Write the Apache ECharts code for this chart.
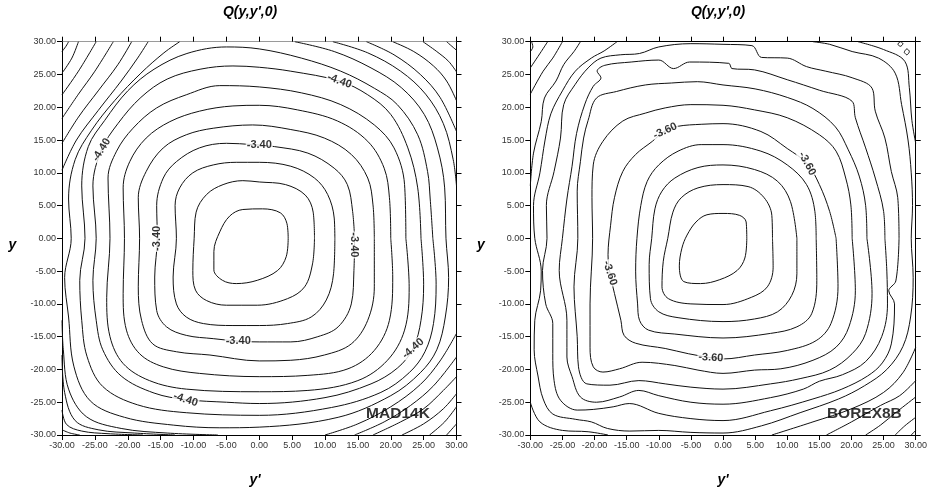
<!DOCTYPE html>
<html>
<head>
<meta charset="utf-8">
<script src="https://cdn.jsdelivr.net/npm/echarts@6/dist/echarts.min.js"></script>
<style>
  html, body { margin: 0; padding: 0; background: #fff; }
  #chart { width: 930px; height: 495px; }
</style>
</head>
<body>
<div id="chart"></div>
<script>
// Axis range shared by both panels (y' across, y up)
const axisMin = -30, axisMax = 30, axisStep = 5;
const panelTitles = ["Q(y,y',0)", "Q(y,y',0)"];
const panelTags = ['MAD14K', 'BOREX8B'];
const tagSpots = [[21.1, -26.7], [22.0, -26.8]];

// MAD14K contour lines, innermost first; each ring is a list of visible pieces of [y', y]
const madRings = [
  [[[4.4,0],[4.2,2.3],[3.2,3.9],[0.5,4.5],[-2.5,4.4],[-4.5,3.4],[-6,1],[-6.9,-2],[-6.9,-4.8],[-5.6,-6.4],[-3.5,-6.9],[-0.3,-6.4],[2.8,-4.9],[4.1,-2.8],[4.4,0]]],
  [[[8.4,0],[8.2,4],[7,6.6],[4,8.2],[0,8.6],[-2.5,8.8],[-5.5,8.2],[-8,6.7],[-9.6,4],[-9.9,0],[-10.1,-4.9],[-9.7,-7.9],[-8,-9.5],[-5,-10.2],[-0.3,-10.2],[4.3,-9.2],[6.9,-7.4],[8.1,-3.9],[8.4,0]]],
  [[[11.5,0],[11.4,3.1],[10.4,6.7],[8.4,9.2],[4.8,11],[0,11.6],[-3.5,11.6],[-7,11.2],[-10.1,10],[-12.1,7.7],[-12.8,5],[-12.6,0],[-13.1,-5.9],[-12.6,-10],[-11.1,-12],[-8.5,-13],[-4,-13.3],[0,-13.3],[4.3,-13],[7.9,-12],[10.2,-9.4],[11.3,-5.4],[11.5,0]]],
  [[[14.5,0],[14.2,4.1],[13.4,8.2],[11.4,10.7],[7.4,13],[2.3,14],[-1,14.3],[-5,14.5],[-9.1,13.8],[-12.6,11.7],[-14.6,9.2],[-15.6,5],[-15.5,0],[-15.9,-5.9],[-15.6,-11],[-14.1,-13.5],[-11.1,-14.8],[-7,-15.3],[-3,-15.7],[0,-15.8],[4.8,-15.8],[8.9,-15],[12,-13.5],[14,-10],[14.4,-4.9],[14.5,0]]],
  [[[17.5,0],[17.3,5.1],[16.5,9.2],[14,12.8],[9.9,15.3],[4.8,16.6],[-1,17.3],[-7,16.8],[-11.1,15.8],[-14.6,13.8],[-17.2,10.2],[-18.4,6.2],[-18.2,0],[-18.4,-7.4],[-17.9,-12.5],[-16.2,-16.1],[-12.6,-17.3],[-7.5,-17.8],[0,-18.7],[4.8,-18.6],[9.9,-17.8],[14,-16.1],[16.5,-12.5],[17.5,-7.4],[17.5,0]]],
  [[[20,0],[19.8,6.2],[19,10.7],[16.5,14.8],[11.9,17.9],[5.8,19.6],[0,20.3],[-4,20.2],[-9.1,19.4],[-13.6,17.8],[-17.2,15.3],[-19.7,11.7],[-20.7,7.7],[-20.5,0],[-20.7,-8.4],[-20.2,-14],[-18.2,-17.6],[-14.6,-19.6],[-9.1,-20.6],[0,-21.1],[7.4,-20.9],[13.5,-19.9],[17.5,-17.1],[19.8,-12.5],[20.3,-5.9],[20,0]]],
  [[[22.3,0],[22.1,8.2],[20.5,13.8],[17.5,17.3],[12.4,20.4],[6.4,22.2],[0,23.1],[-6,23.3],[-11.1,21.9],[-15.6,19.9],[-19.2,16.8],[-21.7,13.3],[-23,9.2],[-22.7,0],[-23.2,-9],[-22.7,-15],[-20.7,-19.1],[-16.7,-21.7],[-11.1,-23],[0,-23.4],[7.4,-23.2],[15,-21.7],[19.5,-18.6],[22.1,-14],[22.8,-7.4],[22.3,0]]],
  [[[24.6,0],[24.1,7.7],[22.6,13.8],[20,18.9],[16.5,21.9],[12.2,24],[4.8,25.5],[0,26.1],[-4,26.3],[-9,25.8],[-14,24.3],[-18,21.5],[-21.5,17.5],[-24,13.5],[-25.3,8],[-24.8,0],[-25.3,-6.4],[-24.8,-12.5],[-23.8,-17],[-21,-21],[-16,-23.6],[-11.1,-24.6],[-5,-25],[0,-25.2],[10,-24.3],[17,-22.2],[21,-19.8],[23.4,-16.8],[24.6,-12.5],[25,-7],[24.6,0]]],
  [[[26.4,0],[26,6],[25.6,10.2],[24.1,15.8],[21,20.4],[17.5,22.9],[12.4,25.5],[6.4,27.5],[0,28.9],[-5,29.2],[-11,28.2],[-16,25.8],[-20,22.5],[-23.5,18],[-26,14],[-27,8],[-26.5,0],[-27.3,-6.4],[-27,-12.5],[-26.2,-18],[-23.8,-22.6],[-18.5,-25.4],[-11.1,-26.6],[0,-27],[11,-25.8],[18.5,-23.5],[22.8,-20.5],[25.2,-17.3],[26.5,-13],[26.9,-7],[26.4,0]]],
  [[[5.4,30],[11.4,28.5],[17,26],[21.6,23],[25.1,18.9],[27.1,13.8],[28.2,7.7],[28.4,0],[28.8,-6],[28.3,-12],[27,-17],[24.5,-20.5],[20,-24],[12,-27.3],[0,-28.8],[-6,-28.9],[-13,-28.5],[-20.5,-27.3],[-25.7,-24.8],[-28.2,-19.5],[-29,-12],[-29.6,-6],[-28.6,0],[-29,6],[-28,12],[-25.5,16.5],[-22,21],[-18,25.2],[-14.5,28.3],[-12.1,30]]],
  [
    [[11.2,30],[16.5,28.3],[21.5,25.5],[25.3,22],[28,17.5],[29.5,12],[30,8]],
    [[30,-14.5],[27.5,-18.7],[24.5,-22.3],[20,-25.7],[15,-28.3],[10,-30]],
    [[-6.3,-30],[-14,-29.7],[-21,-29],[-26.3,-27.2],[-29,-23],[-29.8,-17],[-30,-12.5]],
    [[-30,10.4],[-27.8,15],[-24.5,19.5],[-21,24],[-18.5,27.5],[-16.9,30]]
  ],
  [
    [[16.3,30],[20.5,28],[24.5,25],[27.5,21.5],[30,16.3]],
    [[30,-18.1],[26.5,-22.5],[23,-25.5],[19,-28],[14.5,-30]],
    [[-12.8,-30],[-19,-29.7],[-24.5,-29.2],[-28,-27.8],[-29.6,-23.5],[-30,-17.8]],
    [[-30,14.5],[-27.5,18.5],[-24.5,22.5],[-21.5,26.5],[-19.4,30]]
  ],
  [
    [[20.3,30],[23.5,28.5],[26.5,26.3],[28.5,24],[30,21]],
    [[30,-21.1],[28,-23.2],[25,-26],[21.5,-28],[17.3,-30]],
    [[-17.7,-30],[-23,-29.8],[-27,-29.4],[-29.3,-28.4],[-30,-26.2]],
    [[-30,18.3],[-27.5,22],[-25,25.5],[-22.2,30]]
  ],
  [
    [[24.9,30],[27,28.5],[28.8,27],[30,25.4]],
    [[30,-23.7],[28,-26],[25,-28.3],[21.7,-30]],
    [[-27.3,-30],[-28.8,-29.7],[-30,-29.2]],
    [[-30,21.9],[-27.5,25.5],[-24.8,30]]
  ],
  [
    [[28.5,30],[29.3,29.3],[30,28.7]],
    [[30,-25.7],[28.2,-28],[25.9,-30]],
    [[-30,25.2],[-28.5,27.5],[-27.5,30]]
  ],
  [
    [[30,-28.3],[29.3,-29.1],[28.5,-30]],
    [[-30,28.5],[-29.4,29.3],[-29,30]]
  ]
];
// MAD14K level labels: [y', y, text]
const madLabelSpots = [[-24,13.5,'-4.40'],[0,14.2,'-3.40'],[12.2,24,'-4.40'],[-15.5,0,'-3.40'],[14.4,-1,'-3.40'],[-3.2,-15.6,'-3.40'],[-11.2,-24.6,'-4.40'],[23.4,-16.8,'-4.40']];

// BOREX8B contour lines
const borexRings = [
  [[[3.7,0],[3.6,2.5],[2.6,3.5],[0,3.8],[-2.5,3.6],[-4.2,2.5],[-5.6,0.5],[-6.4,-1.5],[-6.8,-4.2],[-6.1,-6.6],[-3.5,-6.9],[-0.5,-6.3],[2.2,-4.9],[3.4,-3],[3.7,0]]],
  [[[7.7,0],[7.6,3.5],[6.4,6.2],[3.9,7.9],[0,8.2],[-3.9,7.7],[-6.5,6.2],[-7.8,4],[-8.6,0],[-9.3,-3.5],[-9.5,-7.4],[-8.5,-9.2],[-5,-10],[0,-10.1],[4.4,-9],[6.9,-7.4],[7.8,-4.4],[7.7,0]]],
  [[[11.5,0],[10.5,5.6],[8.5,8.7],[4.9,10.5],[0,11.2],[-3.9,10.8],[-7.5,9.2],[-9.5,7.2],[-10.6,4.5],[-11.1,0],[-11.5,-4],[-11.3,-9.2],[-10,-11.2],[-7,-12.1],[0,-12.7],[4.9,-12.3],[8.5,-11.2],[10.7,-8.7],[11.5,-5.4],[11.5,0]]],
  [[[14.5,0],[14.3,4.1],[13,8.2],[10,11.2],[5.9,13.3],[0,14.3],[-3.4,14.3],[-7,13.3],[-10,11.2],[-11.8,8.7],[-12.8,5],[-13.4,0],[-13.6,-5],[-13.3,-10],[-13,-12.5],[-11.6,-14],[-7.5,-14.6],[0,-15.2],[7.4,-14.5],[11.5,-13.5],[13.8,-11.5],[14.6,-6.4],[14.5,0]]],
  [[[17.6,0],[16.6,4.1],[15,8.2],[13.1,11.4],[10,13.7],[5.9,16.3],[0,17.5],[-3.4,17.4],[-7,17.1],[-9,16.4],[-11,14.8],[-13.6,12.8],[-15.6,10.2],[-16.9,6.2],[-17.5,2],[-17.9,-2.5],[-17.6,-5.3],[-16.9,-8.4],[-15.9,-12.5],[-15.4,-14.8],[-13.6,-16],[-9,-16.8],[-5.4,-17.6],[-1.9,-18.2],[0,-18.4],[4.9,-17.8],[10,-17.1],[14.5,-15.6],[16.8,-13],[17.9,-7.4],[17.6,0]]],
  [[[20.1,0],[19.9,5.1],[19.1,9.2],[17.6,13.3],[15,15.8],[10,18.4],[4.9,19.6],[0,20.3],[-5,20.4],[-9,19.9],[-12.1,19.1],[-15.6,17.9],[-18.7,14.8],[-20.2,11.2],[-20.4,6.2],[-20.3,0],[-20.7,-10],[-20.7,-16.6],[-20.2,-19.6],[-18.7,-20.4],[-16.1,-19.9],[-12.6,-18.9],[-7.5,-19.4],[-3.9,-20.1],[0,-20.6],[4.9,-20.1],[9,-19.9],[14,-18.6],[17.6,-16.6],[19.6,-13.5],[20.6,-8],[20.1,0]]],
  [[[22.4,0],[22.2,5],[21.2,9.5],[19.5,13.5],[17.5,17],[14,19.8],[10,21.5],[5,22.8],[0,23.4],[-4,23.9],[-8,23.7],[-12.1,23.4],[-16.6,22.4],[-19.7,21.4],[-21,18],[-21.7,15.3],[-22.2,11.7],[-22.7,7.2],[-22.6,0],[-23.2,-7.4],[-22.7,-15],[-22.5,-19.6],[-21.2,-22.2],[-17.6,-22.4],[-13.1,-21.7],[-9,-22.2],[-5,-22.7],[0,-23],[7.4,-22.2],[12,-21.4],[16.6,-20.1],[20.1,-17.6],[22.2,-14.5],[23.2,-8.4],[22.4,0]]],
  [[[25.2,0],[25,4.1],[23.7,9.2],[22.2,13.8],[20.6,18.4],[20.1,20.9],[15,22.6],[10,24.2],[4.9,25.7],[1.4,25.9],[0.9,26.7],[-5.2,26.9],[-7.7,25.9],[-10,27.2],[-14.3,26.9],[-18.4,26.4],[-19.6,25.5],[-19,24.5],[-20.2,23.2],[-21.5,20.5],[-22.8,16],[-23.5,11],[-24.3,6],[-25,0],[-25.5,-4.9],[-24.3,-12.5],[-24.3,-18.1],[-23.5,-21.1],[-22.2,-24.2],[-19.7,-25],[-16.1,-24.2],[-13.1,-23.2],[-10,-24],[-5,-25],[0,-25.3],[7.4,-24.3],[12.5,-23],[15,-21.8],[18.6,-20.8],[22.2,-18.8],[24.7,-15],[25.6,-10],[25.5,-5],[25.2,0]]],
  [[[27.4,0],[27.2,6.2],[26.2,10.2],[25.2,15.3],[23.7,19.4],[23.2,22.9],[20.1,24.5],[16,25.5],[13,26.2],[10,27.5],[6,27.6],[4.5,29.4],[0,29.6],[-5,29.7],[-10,29.2],[-13,28.2],[-16,28],[-19,27.5],[-21,26],[-23,23.5],[-24.8,20.4],[-25.3,15.3],[-26.3,10.2],[-27.5,5],[-27.4,0],[-28.1,-4.9],[-27.6,-10],[-26.5,-13],[-26.5,-17.6],[-26.3,-21.7],[-25.3,-24.7],[-22.7,-26.2],[-20.2,-26.1],[-17.1,-25.7],[-14.6,-25.2],[-10,-26.7],[-5,-27.5],[0,-27.8],[7.4,-26.3],[14,-24.5],[18.5,-23],[22.5,-21],[24.8,-19],[26.2,-16.1],[26.7,-10],[25.8,-8],[26.9,-6.5],[27.4,0]]],
  [[[14,30],[16.6,29.6],[20.1,28.5],[24.2,27.5],[26.8,25.2],[27.8,20.4],[28.8,15],[29.3,10],[29.5,5],[29.3,0],[29.6,-6],[29.2,-12],[28,-16.5],[25.5,-20],[22,-22.5],[18,-24.5],[12,-26.6],[6,-28.6],[0,-29.7],[-5,-29.6],[-10,-29.3],[-14.5,-29.4],[-18,-29],[-20.5,-28],[-23,-27.6],[-26.5,-26.8],[-28,-24.5],[-28.8,-21],[-29.4,-17],[-29.3,-12.5],[-28.4,-8],[-28.3,-5],[-29.3,0],[-29.5,5],[-28.5,10],[-27.7,15],[-26.8,19],[-25,22.5],[-23,25.5],[-20.5,27.5],[-18.5,28.6],[-16.5,30]]],
  [
    [[21,30],[25,28.8],[28.3,27],[29,23],[29.4,18],[30,14.5]],
    [[30,-16.6],[28,-20.5],[25,-23.5],[20,-26],[14,-28],[7.6,-30]],
    [[-17.9,-30],[-21,-29.5],[-25,-29.3],[-28.5,-28],[-30,-25]],
    [[-30,8],[-29.5,13],[-28.3,17.8],[-27.8,21.4],[-26,24],[-24.8,26.5],[-23.2,28.5],[-22.2,30]]
  ],
  [
    [[30,-21.7],[27.5,-24],[24.5,-25.5],[20,-28],[16.1,-30]],
    [[-30,22],[-28,25.5],[-26.5,27.5],[-25,30]]
  ],
  [
    [[30,-24.2],[27,-26.5],[24.5,-28.5],[22.2,-30]],
    [[-30,26],[-28.3,28.5],[-27.3,30]]
  ],
  [
    [[30,-27.3],[28.3,-28.6],[26.8,-30]],
    [[-30,28.5],[-29.6,29.2],[-29.8,30]]
  ],
  [
    [[30,-29.3],[29.3,-30]],
    [[27.2,29.6],[27.6,30],[28,29.7],[27.6,29.3],[27.2,29.6]],
    [[28.2,28.4],[28.6,28.9],[29,28.5],[28.6,28],[28.2,28.4]]
  ]
];
// BOREX8B level labels
const borexLabelSpots = [[-9,16.4,'-3.60'],[13.1,11.4,'-3.60'],[-17.6,-5.3,'-3.60'],[-1.9,-18.2,'-3.60']];

// label rotations (degrees), same order as the label spots
const madLabelAngles = [58, 0, -20, 90, -90, 0, -18, 42];
const borexLabelAngles = [25, -62, -72, -3];

const FONT = 'Liberation Sans, Arial, sans-serif';
const grids = [
  { left: 62, top: 41.7, width: 394.5, height: 393.3 },
  { left: 530.3, top: 41.7, width: 393.7, height: 393.3 }
];

function makeAxes(gridIndex, topColor) {
  const base = {
    type: 'value', min: axisMin, max: axisMax, interval: axisStep, gridIndex,
    splitLine: { show: false },
    axisTick: { show: true, inside: false, length: 5, lineStyle: { color: '#000', width: 1 } }
  };
  const labelStyle = { show: true, fontSize: 9, color: '#333', fontFamily: FONT, margin: 6,
    formatter: v => v.toFixed(2) };
  return {
    x: [
      Object.assign({}, base, { position: 'bottom', axisLine: { show: true, onZero: false, lineStyle: { color: '#000', width: 1 } }, axisLabel: labelStyle }),
      Object.assign({}, base, { position: 'top', axisLine: { show: true, onZero: false, lineStyle: { color: topColor, width: 1.2 } }, axisLabel: { show: false } })
    ],
    y: [
      Object.assign({}, base, { position: 'left', axisLine: { show: true, onZero: false, lineStyle: { color: '#000', width: 1 } }, axisLabel: labelStyle }),
      Object.assign({}, base, { position: 'right', axisLine: { show: true, onZero: false, lineStyle: { color: '#000', width: 1 } }, axisLabel: { show: false } })
    ]
  };
}

const axesL = makeAxes(0, '#9a9a9a');
const axesR = makeAxes(1, '#000');

function contourSeries(rings, axisIndex) {
  const out = [];
  rings.forEach(ring => ring.forEach(piece => {
    out.push({
      type: 'line', xAxisIndex: axisIndex, yAxisIndex: axisIndex,
      data: piece, symbol: 'none', showSymbol: false, smooth: 0.35,
      lineStyle: { color: '#111', width: 1 }, clip: true, silent: true, z: 2
    });
  }));
  return out;
}

function labelSeries(spots, angles, axisIndex) {
  return {
    type: 'scatter', xAxisIndex: axisIndex, yAxisIndex: axisIndex,
    symbolSize: 0, silent: true, z: 5,
    data: spots.map((s, i) => ({
      value: [s[0], s[1]],
      label: { show: true, position: 'inside', rotate: angles[i], formatter: s[2],
        fontSize: 11, fontWeight: 'bold', fontFamily: FONT, color: '#000',
        backgroundColor: '#fff', padding: [0, 1] }
    }))
  };
}

function tagSeries(text, spot, axisIndex) {
  return {
    type: 'scatter', xAxisIndex: axisIndex, yAxisIndex: axisIndex,
    symbolSize: 0, silent: true, z: 6,
    data: [{ value: spot, label: { show: true, position: 'inside', formatter: text,
      fontSize: 15.5, fontWeight: 'bold', fontFamily: FONT, color: '#000' } }]
  };
}

const textStyleBI = (size) => ({ font: 'italic bold ' + size + 'px ' + FONT, fill: '#000', align: 'center', verticalAlign: 'middle' });

const chart = echarts.init(document.getElementById('chart'), null, { renderer: 'canvas' });
chart.setOption({
  animation: false,
  backgroundColor: '#fff',
  grid: grids,
  xAxis: [axesL.x[0], axesL.x[1], axesR.x[0], axesR.x[1]],
  yAxis: [axesL.y[0], axesL.y[1], axesR.y[0], axesR.y[1]],
  graphic: [
    { type: 'text', x: 250, y: 12.5, style: Object.assign({ text: panelTitles[0] }, textStyleBI(14)) },
    { type: 'text', x: 718, y: 12.5, style: Object.assign({ text: panelTitles[1] }, textStyleBI(14)) },
    { type: 'text', x: 12.5, y: 245, style: Object.assign({ text: 'y' }, textStyleBI(14)) },
    { type: 'text', x: 481, y: 245, style: Object.assign({ text: 'y' }, textStyleBI(14)) },
    { type: 'text', x: 255, y: 480, style: Object.assign({ text: "y'" }, textStyleBI(14)) },
    { type: 'text', x: 723, y: 480, style: Object.assign({ text: "y'" }, textStyleBI(14)) }
  ],
  series: [].concat(
    contourSeries(madRings, 0),
    contourSeries(borexRings, 2),
    [labelSeries(madLabelSpots, madLabelAngles, 0),
     labelSeries(borexLabelSpots, borexLabelAngles, 2),
     tagSeries(panelTags[0], tagSpots[0], 0),
     tagSeries(panelTags[1], tagSpots[1], 2)]
  )
});
</script>
</body>
</html>
